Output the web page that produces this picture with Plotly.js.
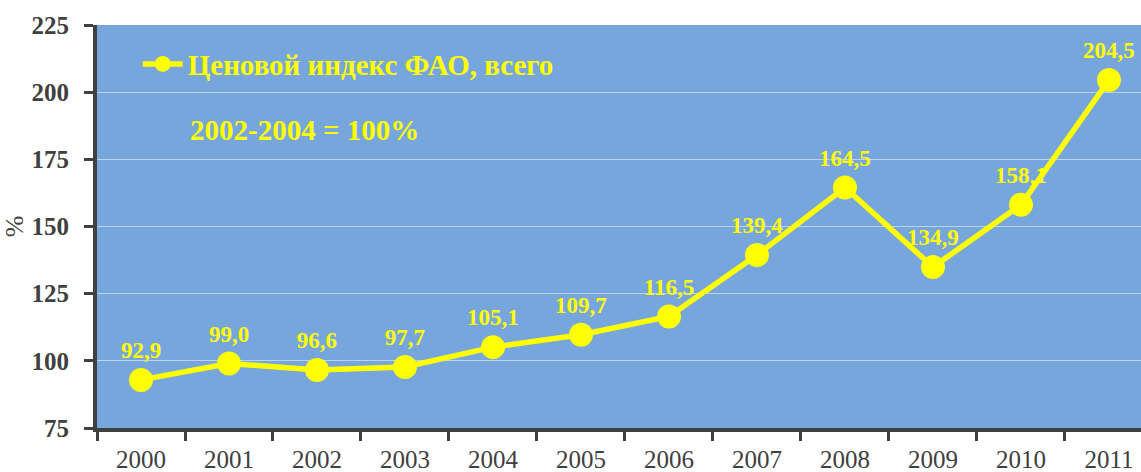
<!DOCTYPE html>
<html>
<head>
<meta charset="utf-8">
<script src="https://cdn.plot.ly/plotly-3.0.1.min.js"></script>
<style>html,body{margin:0;padding:0;background:#fff;}#chart{width:1141px;height:472px;}</style>
</head>
<body>
<div id="chart"></div>
<script>
const years = ["2000","2001","2002","2003","2004","2005","2006","2007","2008","2009","2010","2011"];
const priceIndex = [92.9, 99.0, 96.6, 97.7, 105.1, 109.7, 116.5, 139.4, 164.5, 134.9, 158.1, 204.5];
const seriesName = "Ценовой индекс ФАО, всего";
const baseNote = "2002-2004 = 100%";
const yTicks = [75, 100, 125, 150, 175, 200, 225];

const labels = priceIndex.map(v => v.toFixed(1).replace('.', ','));
const serif = 'Liberation Serif, Times New Roman, serif';
const yellow = '#FFFF00';
const axisCol = '#404040';

const trace = {
  x: years,
  y: priceIndex,
  type: 'scatter',
  mode: 'lines+markers+text',
  name: seriesName,
  text: labels,
  textposition: 'top center',
  textfont: {family: serif, size: 23, color: yellow, weight: 'bold'},
  line: {color: yellow, width: 5.5},
  marker: {color: yellow, size: 24, symbol: 'circle'},
  cliponaxis: false,
  hoverinfo: 'skip'
};

const layout = {
  width: 1141, height: 472,
  margin: {l: 97, r: 0, t: 25, b: 44, pad: 0},
  paper_bgcolor: '#ffffff',
  plot_bgcolor: '#77A6DD',
  showlegend: true,
  legend: {
    x: 0.039, y: 0.903, xanchor: 'left', yanchor: 'middle',
    bgcolor: 'rgba(0,0,0,0)',
    font: {family: serif, size: 29, color: yellow, weight: 'bold'},
    itemwidth: 40
  },
  xaxis: {
    type: 'category',
    range: [-0.5, 11.364],
    tickson: 'boundaries',
    ticks: 'outside', ticklen: 9, tickwidth: 3, tickcolor: axisCol,
    showline: true, linecolor: axisCol, linewidth: 4,
    showgrid: false, zeroline: false,
    tickfont: {family: serif, size: 25, color: axisCol},
    ticklabelstandoff: 6,
    fixedrange: true
  },
  yaxis: {
    range: [75, 225],
    tickvals: yTicks,
    ticks: 'outside', ticklen: 9, tickwidth: 3, tickcolor: axisCol,
    showline: true, linecolor: axisCol, linewidth: 4,
    showgrid: true, gridcolor: 'rgba(255,255,255,0.5)', gridwidth: 1,
    zeroline: false,
    tickfont: {family: serif, size: 25, color: axisCol, weight: 'bold'},
    ticklabelstandoff: 10,
    title: {text: '%', font: {family: serif, size: 26, color: axisCol}, standoff: 1},
    fixedrange: true
  },
  annotations: [{
    text: baseNote,
    xref: 'paper', yref: 'paper',
    x: 0.087, y: 0.74, xanchor: 'left', yanchor: 'middle',
    showarrow: false,
    font: {family: serif, size: 29, color: yellow, weight: 'bold'}
  }]
};

Plotly.newPlot('chart', [trace], layout, {displayModeBar: false, staticPlot: true});
</script>
</body>
</html>
